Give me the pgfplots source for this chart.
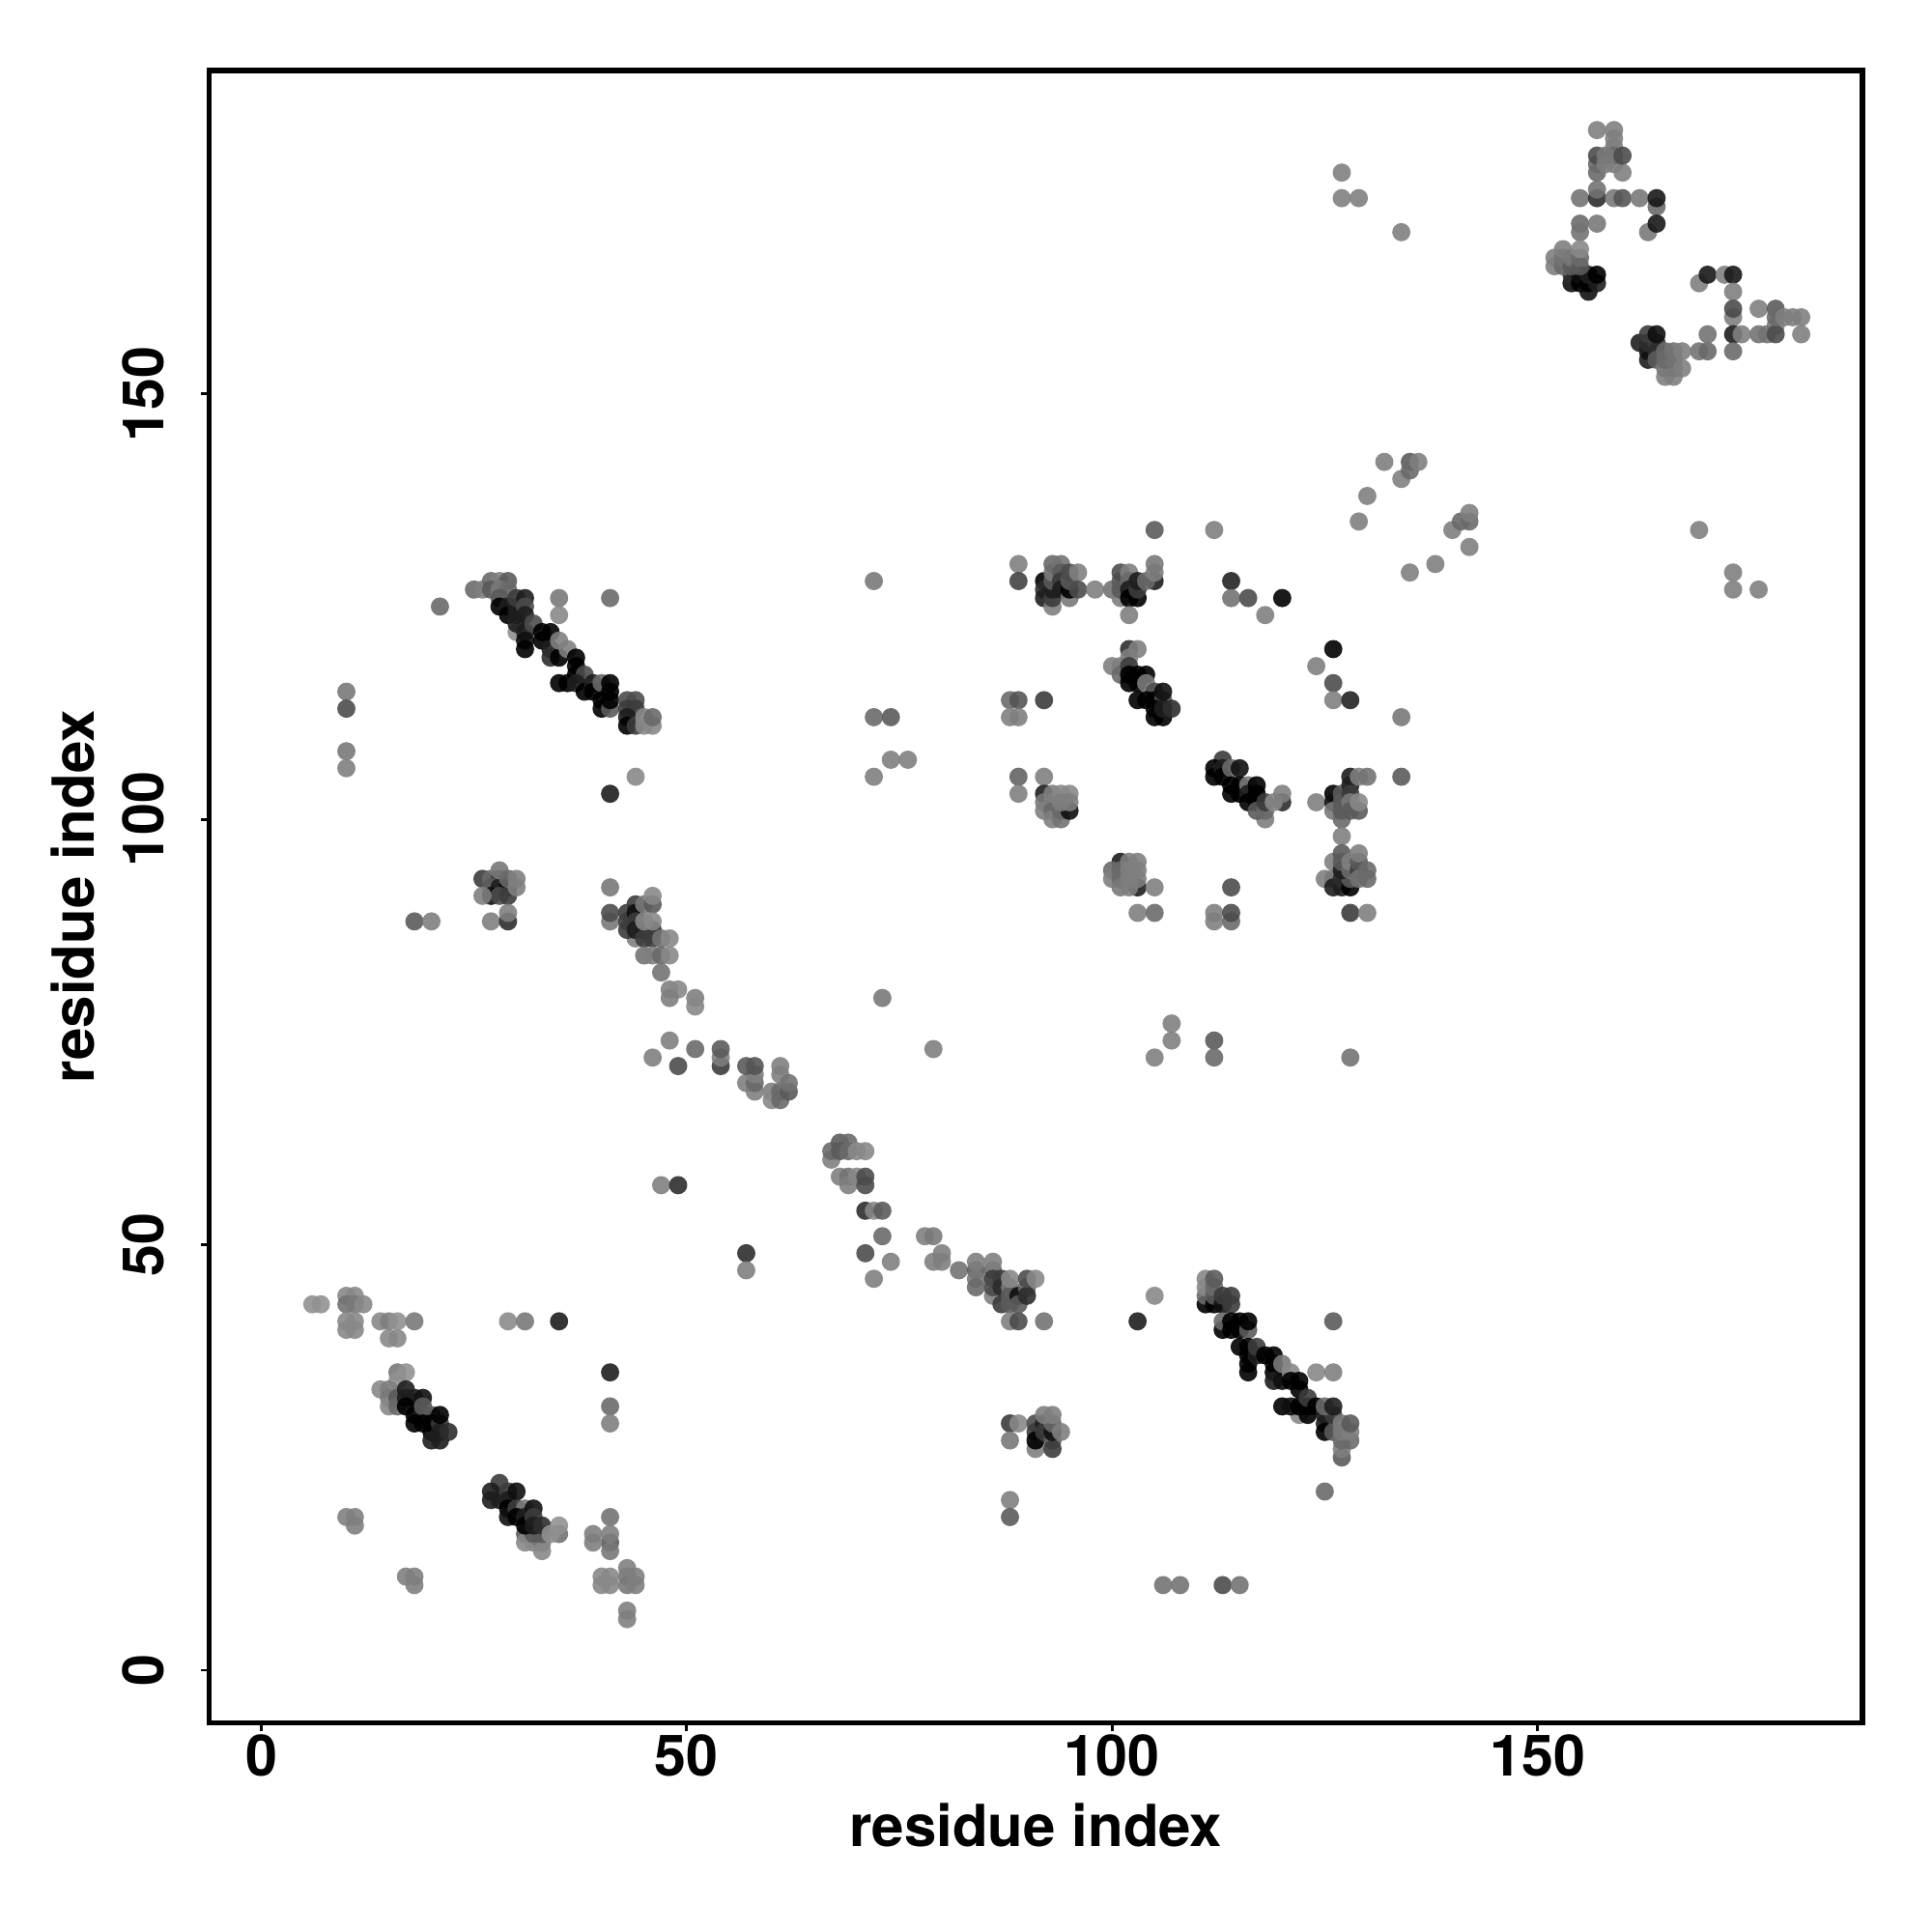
\documentclass[border=0pt]{standalone}
\usepackage{fontspec}
\setmainfont{TeX Gyre Heros}
\usepackage{pgfplots}
\pgfplotsset{compat=1.18}
\begin{document}
\begin{tikzpicture}
\useasboundingbox (-77.94pt,-77.94pt) rectangle +(720pt,720pt);
\begin{axis}[
    scale only axis, width=616.14pt, height=615.78pt, at={(0pt,0pt)}, anchor=south west,
    xmin=-6.13, xmax=188.2, ymin=-6.19, ymax=188.0,
    xtick={0,50,100,150}, ytick={0,50,100,150},
    xtick pos=bottom, ytick pos=left, tick align=outside,
    major tick length=3.2pt,
    tick style={black, line width=1pt},
    axis line style={black, line width=2pt},
    /pgf/number format/assume math mode=true,
    tick label style={font=\fontsize{21.3}{25}\selectfont\bfseries, inner sep=0pt},
    xticklabel style={anchor=north}, xticklabel shift=0.9pt,
    yticklabel style={rotate=90, anchor=south}, yticklabel shift=13.5pt,
    label style={font=\fontsize{21.6}{25}\selectfont\bfseries, inner sep=0pt},
    xlabel={residue index}, ylabel={residue index},
    xlabel style={at={([yshift=-45.9pt]axis description cs:0.5,0)}, anchor=base},
    ylabel style={at={([xshift=-42.7pt]axis description cs:0,0.5)}, anchor=base},
    colormap={greys}{gray(0cm)=(0); gray(1cm)=(1)},
    point meta min=0, point meta max=0.85,
]
\addplot[scatter, only marks, mark=*, mark size=3.4pt, point meta=explicit,
    scatter/use mapped color={draw opacity=0, fill=mapped color, fill opacity=0.9}]
coordinates {
% lower left
(6,43)[.48] (7,43)[.48] (10,44)[.45] (11,44)[.45] (10,43)[.38] (11,43)[.4] (12,43)[.45]
(10,41)[.45] (11,41)[.45] (10,40)[.45] (11,40)[.45]
(14,41)[.45] (15,41)[.42] (16,41)[.48] (18,41)[.4] (15,39)[.45] (16,39)[.45]
(16,35)[.4] (17,35)[.48] (16,34)[.48] (14,33)[.45] (15,33)[.42] (15,32)[.4] (15,31)[.45] (16,32)[.3] (16,31)[.35]
(17,33)[.1] (17,32)[.1] (18,32)[.1] (17,31)[0] (18,30)[0] (19,30)[.1] (18,29)[0] (19,32)[.05]
(19,31)[.3] (20,30)[.3] (19,29)[0] (20,29)[0] (20,28)[0] (21,29)[.2] (21,28)[.1] (20,27)[.1] (21,27)[.1] (21,30)[0] (22,28)[.15]
(28,22)[.2] (27,21)[.1] (27,20)[.1] (28,20)[.1] (29,21)[.2] (29,20)[.1] (29,19)[0] (29,18)[.05] (30,21)[.05]
(31,16)[.3] (31,15)[.45] (32,15)[.45] (33,15)[.4] (33,14)[.45] (32,16)[.3] (33,16)[.3]
(30,19)[.2] (31,19)[.4] (30,18)[0] (31,18)[.1] (31,17)[0] (32,19)[.05] (32,18)[.2] (32,17)[.1] (33,17)[.15]
(35,16)[.38] (34,16)[.48] (35,17)[.48]
(29,41)[.46] (31,41)[.4] (35,41)[.1] (41,35)[.1] (41,31)[.35] (41,29)[.42]
(41,18)[.38] (41,15)[.3] (41,14)[.4] (41,16)[.42] (39,16)[.42] (39,15)[.42]
(40,11)[.45] (41,11)[.45] (40,10)[.45] (41,10)[.45] (43,11)[.4] (43,10)[.4] (43,12)[.42] (44,11)[.42] (44,10)[.42]
(43,7)[.42] (43,6)[.42] (10,18)[.42] (11,18)[.42] (11,17)[.42] (17,11)[.42] (18,11)[.42] (18,10)[.42]
% left column
(10,115)[.4] (10,113)[.25] (10,108)[.4] (10,106)[.42] (18,88)[.3] (20,88)[.42] (21,125)[.35]
% upper left chain
(25,127)[.35] (26,127)[.42] (27,128)[.35] (28,128)[.42] (29,128)[.3] (27,127)[.3] (28,127)[.4] (29,127)[.35]
(28,126)[.3] (30,122)[.48] (28,125)[0] (29,125)[.1] (29,124)[0] (30,125)[.1] (30,124)[.1] (30,126)[.2] (31,126)[.1] (31,125)[.25] (31,124)[.1]
(30,123)[.1] (31,122)[.1] (31,121)[.05] (31,120)[0] (32,123)[.25] (33,122)[0] (34,122)[0] (33,121)[0]
(34,120)[.1] (34,119)[.15] (35,119)[0] (35,121)[.42] (36,120)[.42] (37,119)[0] (37,118)[0] (37,117)[0]
(38,117)[.25] (35,116)[0] (36,116)[0] (37,116)[.1] (38,115)[0] (39,116)[.1] (39,115)[0] (40,116)[.35] (40,114)[0] (40,113)[0] (41,113)[.3]
(41,116)[0] (41,115)[0] (41,114)[0]
(43,114)[.25] (44,114)[.25] (43,113)[.2] (44,113)[.2] (43,112)[.1] (43,111)[0] (44,111)[.2] (45,112)[.45] (45,111)[.45] (46,111)[.45] (46,112)[.35]
(35,126)[.4] (35,124)[.45] (41,126)[.35] (44,105)[.45] (41,103)[.1]
% clusters around (28,92) and (44,88)
(26,93)[.2] (27,93)[.35] (28,93)[.2] (27,92)[.3] (28,92)[.1] (29,92)[0] (27,91)[.05] (28,91)[.25] (29,91)[.2] (26,91)[.42]
(28,94)[.4] (29,93)[.35] (30,93)[.42] (30,92)[.42] (27,88)[.42] (29,88)[.15] (29,89)[.42]
(41,92)[.4] (41,88)[.4] (41,89)[.25]
(44,86)[.42] (43,89)[.2] (44,90)[.2] (43,88)[.2] (43,87)[.2] (44,89)[.05] (44,88)[.2] (44,87)[.1] (45,90)[.4] (46,90)[.3] (46,91)[.45]
(45,87)[.1] (46,87)[.15] (45,86)[.2] (46,86)[.2] (45,88)[.45] (46,88)[.45] (47,86)[.38] (48,86)[.45]
(45,84)[.38] (46,84)[.42] (47,84)[.35] (48,84)[.45] (47,82)[.38]
(48,80)[.42] (49,80)[.45] (48,79)[.42] (51,79)[.42] (51,78)[.45]
(48,74)[.42] (46,72)[.42] (51,73)[.35] (49,71)[.25] (54,71)[.2] (54,72)[.42] (54,73)[.3]
(57,69)[.42] (58,68)[.42] (58,69)[.35] (58,70)[.42] (57,71)[.3] (58,71)[.28]
(60,68)[.42] (60,67)[.45] (61,67)[.35] (61,68)[.35] (61,71)[.42] (61,70)[.42] (62,68)[.3] (62,69)[.38]
(47,57)[.42] (49,57)[.15] (57,49)[.15] (57,47)[.42]
(73,79)[.4] (79,73)[.42]
% middle of the diagonal
(67,60)[.42] (67,61)[.35] (68,62)[.3] (69,62)[.35] (68,61)[.3] (69,61)[.35] (70,61)[.45] (71,61)[.45]
(68,58)[.42] (69,58)[.38] (69,57)[.42] (70,58)[.45] (71,58)[.25] (71,57)[.25]
(71,54)[.15] (72,54)[.45] (73,54)[.3] (73,51)[.35] (71,49)[.25] (74,48)[.42] (72,46)[.42]
(78,51)[.42] (79,51)[.4] (79,48)[.42] (80,48)[.42] (80,49)[.42] (82,47)[.38]
(84,47)[.3] (84,48)[.42] (86,47)[.35] (86,48)[.42] (84,46)[.4] (84,45)[.35] (86,44)[.42]
(86,46)[.2] (86,45)[.25] (87,46)[.2] (87,45)[.15] (87,43)[.2] (88,45)[.4] (88,44)[.3] (88,43)[.3]
(88,46)[.45] (89,44)[.05] (89,43)[.3] (90,45)[.35] (90,44)[.15] (90,46)[.25] (91,46)[.45]
(88,41)[.42] (89,41)[.25] (92,41)[.38]
(88,29)[.2] (89,29)[.45] (88,27)[.4] (91,26)[.42] (91,29)[.25] (91,28)[.2] (91,27)[0] (92,29)[.1] (92,28)[.2]
(93,27)[.3] (93,26)[.2] (93,28)[.05] (93,29)[.35] (92,30)[.42] (93,30)[.42] (94,28)[.42] (88,20)[.42] (88,18)[.3]
% lower right chain
(105,44)[.45] (103,41)[.1]
(111,43)[0] (111,44)[.35] (111,45)[.45] (111,46)[.45] (112,43)[0] (112,44)[.3] (112,45)[.35] (112,46)[.3]
(113,43)[.05] (113,44)[.2] (114,43)[.2] (114,44)[.2]
(113,40)[0] (113,41)[.35] (114,41)[0] (114,40)[0] (115,41)[0] (115,40)[0] (116,40)[.3] (116,41)[0]
(115,38)[0] (116,38)[0] (116,37)[0] (116,36)[0] (116,35)[0] (117,37)[.1] (117,38)[.2]
(118,37)[0] (119,37)[0] (119,36)[0] (119,35)[0] (119,34)[.1] (120,34)[.05] (120,36)[.4] (121,35)[.45]
(121,34)[0] (122,34)[0] (122,33)[0] (122,30)[.45] (120,31)[0] (121,31)[.05] (122,31)[0] (123,30)[0] (123,31)[0] (123,32)[.2]
(124,31)[0] (125,30)[.1] (125,29)[.1] (125,28)[0] (126,28)[.3] (126,30)[.2] (125,31)[.35] (126,31)[.1]
(124,35)[.45] (126,35)[.42] (126,41)[.3] (125,21)[.35]
(127,25)[.3] (127,26)[.42] (127,27)[.35] (128,27)[.35] (127,28)[.4] (128,28)[.42] (127,29)[.4] (128,29)[.3]
(106,10)[.38] (108,10)[.38] (113,10)[.25] (115,10)[.38]
% mid right
(89,105)[.33] (92,105)[.42] (89,103)[.42]
(92,103)[.1] (92,102)[.4] (92,101)[.42] (93,102)[.42] (93,101)[.35] (93,100)[.42] (94,100)[.38] (94,101)[.35] (95,101)[.05]
(93,103)[.42] (94,103)[.45] (95,103)[.45] (94,102)[.42] (95,102)[.42]
(101,95)[.1] (100,94)[.35] (100,93)[.42] (101,94)[.35] (101,93)[.35] (101,92)[.4] (103,92)[.1] (102,95)[.42] (103,95)[.42]
(102,94)[.42] (103,94)[.42] (102,93)[.42] (103,93)[.42] (102,92)[.42] (105,92)[.42] (103,89)[.42] (105,89)[.35]
(114,92)[.25] (112,89)[.42] (112,88)[.42] (114,88)[.35] (114,89)[.25]
(107,76)[.42] (107,74)[.42] (105,72)[.42] (112,74)[.3] (112,72)[.35] (128,72)[.38]
(113,107)[.2] (112,106)[0] (112,105)[0] (113,106)[.1] (113,105)[0] (114,106)[.35] (115,106)[.05]
(114,104)[0] (114,103)[0] (115,104)[0] (115,103)[0] (116,104)[.4] (116,103)[.1] (116,102)[0] (117,104)[0] (117,103)[0] (117,102)[0]
(118,100)[.42] (117,101)[.3] (118,101)[.35] (118,102)[.2] (120,102)[.15] (119,102)[.45] (120,103)[.42]
(124,102)[.42] (126,103)[0] (126,102)[.05] (126,101)[.4] (127,100)[.35] (127,101)[.3] (127,102)[.3] (127,103)[.3]
(128,105)[.1] (128,104)[.1] (128,103)[.2] (128,102)[.4] (128,101)[.3] (129,101)[.3] (129,102)[.45] (129,105)[.42] (130,105)[.38] (134,105)[.3]
(127,98)[.42]
(126,95)[.42] (125,93)[.42] (126,93)[.4] (126,92)[.1] (127,92)[.1] (127,93)[.15] (128,92)[0] (128,93)[.3] (127,94)[.1] (127,95)[.3] (127,96)[.3]
(128,94)[.35] (128,95)[.42] (129,94)[.2] (129,95)[.3] (129,93)[.38] (129,96)[.42] (130,94)[.35] (130,93)[.35]
(128,89)[.2] (130,89)[.42]
% upper band, y about 125
(105,134)[.3] (112,134)[.42] (89,130)[.42] (89,128)[.22]
(92,128)[0] (92,127)[.15] (92,126)[.1] (93,125)[.42] (93,126)[.2] (93,127)[.1] (93,128)[.3] (93,129)[.4] (93,130)[.35] (94,130)[.38]
(94,129)[.3] (94,128)[.2] (94,127)[.1] (95,126)[.4] (95,127)[0] (95,128)[.3] (95,129)[.25] (96,129)[.42] (96,127)[.25] (98,127)[.42]
(100,127)[.38] (101,126)[.42] (101,127)[.3] (101,128)[.3] (101,129)[.25] (102,129)[.42] (102,128)[.35]
(102,127)[.1] (102,126)[0] (103,126)[0] (103,127)[.2] (103,128)[.1] (105,128)[.1] (104,128)[.35] (105,129)[.42] (105,130)[.4] (102,124)[.42]
(114,128)[.12] (114,126)[.38] (116,126)[.25] (120,126)[0] (118,124)[.42]
(126,120)[0] (124,118)[.42] (126,116)[.25] (126,114)[.42] (128,114)[.12]
(102,120)[.15] (103,120)[.42] (102,119)[.42] (100,118)[.42] (101,118)[.42] (101,117)[.35] (102,118)[.2]
(102,117)[0] (103,117)[0] (104,117)[0] (102,116)[0] (103,116)[0] (104,116)[.4] (105,115)[.25] (103,114)[0] (104,114)[0]
(105,114)[0] (106,114)[.3] (105,113)[0] (105,112)[0] (106,112)[0] (106,113)[.1] (106,115)[.05] (107,113)[.15]
(88,114)[.35] (89,114)[.28] (88,112)[.42] (89,112)[.42] (92,114)[.2]
(72,128)[.4] (72,112)[.35] (74,112)[.3] (72,105)[.42] (74,107)[.42] (76,107)[.42]
% upper right singles
(127,176)[.42] (127,173)[.42] (129,173)[.42] (134,169)[.42]
(132,142)[.42] (134,140)[.42] (135,142)[.3] (135,141)[.35] (136,142)[.42] (130,138)[.42] (129,135)[.42]
(135,129)[.42] (138,130)[.42] (140,134)[.42] (141,135)[.35] (142,135)[.35] (142,136)[.42] (142,132)[.42]
(169,134)[.42] (173,129)[.42] (173,127)[.42] (176,127)[.42] (134,112)[.4]
% top right
(157,181)[.42] (159,181)[.42] (159,180)[.42] (159,179)[.42] (157,176)[.35] (157,177)[.35] (159,177)[.42] (160,176)[.42]
(157,178)[.25] (159,178)[.35] (158,177)[.42] (158,178)[.4] (160,178)[.25]
(155,173)[.38] (157,173)[.15] (157,174)[.38] (159,173)[.4] (160,173)[.28] (162,173)[.4]
(164,172)[.35] (164,173)[.08] (163,169)[.4] (164,170)[.08] (155,170)[.35] (155,169)[.38] (157,170)[.4]
(154,163)[.05] (154,164)[.15] (155,163)[0] (155,164)[.05] (156,162)[.05] (156,163)[0] (156,164)[.1] (157,163)[.1]
(152,165)[.42] (152,166)[.42] (153,165)[.35] (153,166)[.38] (153,167)[.42] (154,165)[.3] (154,166)[.4] (155,165)[.3] (155,166)[.35] (155,167)[.45] (157,164)[0]
(169,163)[.42] (170,164)[.08] (172,164)[.42] (173,164)[.08] (173,162)[.42] (173,159)[.42] (173,160)[.25]
(173,157)[.1] (174,157)[.42] (176,160)[.42] (178,158)[.42] (176,157)[.38] (177,157)[.38] (178,157)[.25] (178,160)[.3] (178,159)[.35]
(179,159)[.42] (180,159)[.42] (181,159)[.42] (181,157)[.42] (170,157)[.38] (169,155)[.38] (170,155)[.35] (173,155)[.35]
(163,154)[.1] (163,155)[.05] (162,156)[.1] (163,156)[.15] (164,156)[.2] (163,157)[.2] (164,155)[.15] (164,154)[.3] (164,157)[.05]
(165,152)[.42] (166,152)[.42] (165,153)[.4] (166,153)[.4] (165,154)[.35] (166,154)[.38] (165,155)[.35] (166,155)[.38] (167,155)[.42] (167,153)[.42]
};
\end{axis}
\end{tikzpicture}
\end{document}
